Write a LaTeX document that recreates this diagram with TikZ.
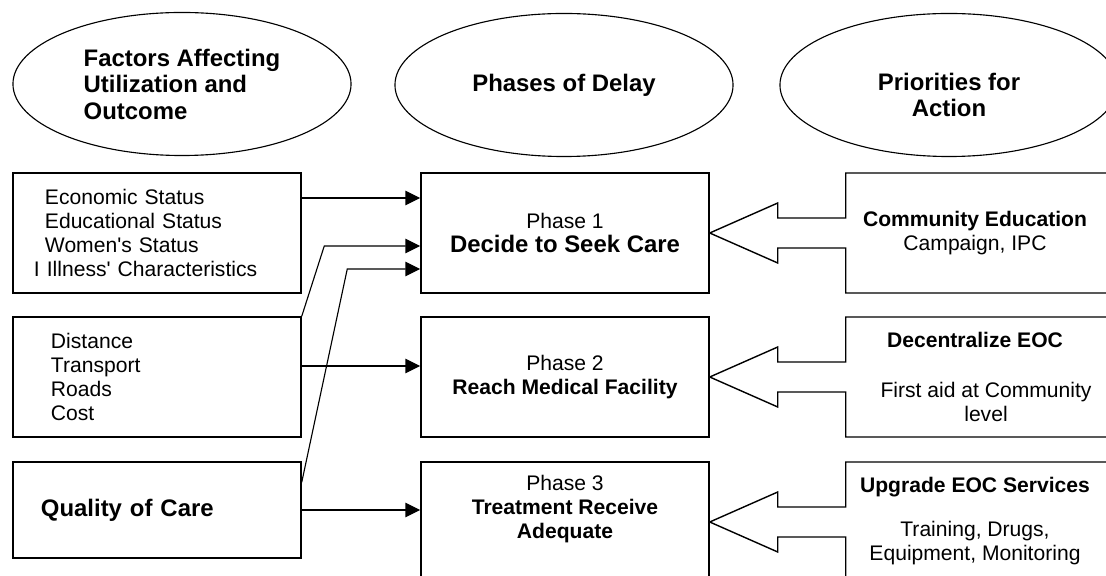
\documentclass[tikz,border=0pt]{standalone}
\usepackage{fontspec}
\setmainfont{Liberation Sans}[Ligatures=TeXOff]
\usetikzlibrary{shapes.geometric, arrows.meta, calc}

\begin{document}
\begin{tikzpicture}[x=0.025cm, y=-0.025cm,
    heading/.style={ellipse, draw, line width=0.8pt, minimum width=8.45cm, minimum height=3.575cm, font=\fontsize{17}{18.85}\selectfont\bfseries},
    factorbox/.style={draw, line width=1pt, minimum width=7.2cm, minimum height=3cm, text width=6.15cm, inner xsep=0.525cm, align=left, font=\fontsize{15}{17.07}\selectfont},
    phasebox/.style={draw, line width=1pt, minimum width=7.2cm, minimum height=3cm, align=center, font=\fontsize{15}{17.07}\selectfont},
    prio/.style={align=center, font=\fontsize{15}{17.07}\selectfont},
    flow/.style={line width=0.8pt, -{Triangle[length=0.37cm, width=0.36cm]}},
    callout/.style={line width=1pt, line join=miter}
  ]
  \path[use as bounding box, clip] (0,0) rectangle (1106,576);

  % headings
  \node[heading, align=left] (head1) at (182,84) {Factors Affecting\\Utilization and\\Outcome};
  \node[heading] (head2) at (564,85) {Phases of Delay};
  \node[heading, label={[align=center, font=\fontsize{17}{18.85}\selectfont\bfseries, yshift=-0.25cm]center:Priorities for\\Action}] (head3) at (949,85) {};

  % factors
  \node[factorbox] (econ) at (157,233) {\hspace*{0.275cm}Economic Status\\\hspace*{0.275cm}Educational Status\\\hspace*{0.275cm}Women's Status\\I Illness' Characteristics};
  \node[factorbox] (access) at (157,377) {\hspace*{0.425cm}Distance\\\hspace*{0.425cm}Transport\\\hspace*{0.425cm}Roads\\\hspace*{0.425cm}Cost};
  \node[factorbox, minimum height=2.4cm, font=\fontsize{17}{19}\selectfont\bfseries] (quality) at (157,510) {\hspace*{0.175cm}Quality of Care};

  % phases
  \node[phasebox] (phase1) at (565,233) {Phase 1\\{\fontsize{17}{19}\selectfont\bfseries Decide to Seek Care}};
  \node[phasebox] (phase2) at (565,377) {Phase 2\\\textbf{Reach Medical Facility}};
  \node[phasebox, label={[prio, yshift=0.325cm]center:Phase 3\\\textbf{Treatment Receive}\\\textbf{Adequate}}] (phase3) at (565,522) {};

  % priorities
  \node[prio] (prio1) at (975,233) {\textbf{Community Education}\\Campaign, IPC};
  \node[prio] (prio2) at (975,377) {\textbf{Decentralize EOC}\\[0.65cm]\hspace*{0.55cm}First aid at Community\\\hspace*{0.55cm}level};
  \node[prio] (prio3) at (975,521) {\textbf{Upgrade EOC Services}\\[0.5cm]Training, Drugs,\\Equipment, Monitoring};

  \foreach \p in {phase1,phase2,phase3}
    \draw[callout] (\p.east) -- ++(68,-30) -- ++(0,15) -- ++(68,0) -- ++(0,-45) -- ++(300,0) -- ++(0,120)
      -- ++(-300,0) -- ++(0,-45) -- ++(-68,0) -- ++(0,15) -- cycle;

  % factors to phases
  \draw[flow] ($(econ.east)+(0,-35)$) coordinate (e1) -- (e1 -| phase1.west);
  \draw[flow] (access.north east) -- ($(phase1.west)+(-96,13)$) -- ($(phase1.west)+(0,13)$);
  \draw[flow] ($(quality.north east)+(0,21)$) -- ($(phase1.west)+(-73,36)$) -- ($(phase1.west)+(0,36)$);
  \draw[flow] ($(access.east)+(0,-11)$) coordinate (e2) -- (e2 -| phase2.west);
  \draw[flow] (quality.east) -- (quality.east -| phase3.west);
\end{tikzpicture}
\end{document}
